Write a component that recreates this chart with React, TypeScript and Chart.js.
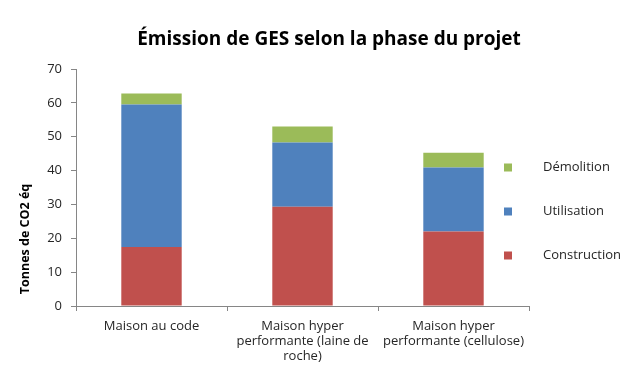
import React, { useEffect, useRef } from "react";
import { Chart, registerables } from "chart.js";

Chart.register(...registerables);

const categories: (string | string[])[] = [
  "Maison au code",
  ["Maison hyper", "performante (laine de", "roche)"],
  ["Maison hyper", "performante (cellulose)"],
];
const construction = [17.4, 29.3, 22.0];
const utilisation = [42.1, 19.0, 18.9];
const demolition = [3.3, 4.7, 4.4];
const seriesLabels = ["Construction", "Utilisation", "Démolition"];
const seriesColors = ["#C0504D", "#4F81BD", "#9BBB59"];
const yTicks = [0, 10, 20, 30, 40, 50, 60, 70];
const chartTitle = "Émission de GES selon la phase du projet";
const yTitle = "Tonnes de CO2 éq";

const FONT = "'Open Sans', 'DejaVu Sans', sans-serif";
const TEXT = "#262626";
const AXIS = "#868686";

const decorPlugin = {
  id: "decor",
  afterDraw(chart: any) {
    const { ctx, chartArea } = chart;
    // main title
    ctx.save();
    ctx.font = `bold 19px ${FONT}`;
    ctx.fillStyle = "#000";
    ctx.textAlign = "center";
    ctx.textBaseline = "middle";
    ctx.fillText(chartTitle, 329, 40);
    ctx.restore();

    // y axis title
    ctx.save();
    ctx.font = `bold 12.5px ${FONT}`;
    ctx.fillStyle = "#000";
    ctx.translate(25, chartArea.bottom - 67);
    ctx.rotate(-Math.PI / 2);
    ctx.textAlign = "center";
    ctx.textBaseline = "middle";
    ctx.fillText(yTitle, 0, 0);
    ctx.restore();

    // legend (reversed order)
    ctx.save();
    ctx.font = `13px ${FONT}`;
    ctx.textBaseline = "middle";
    ctx.textAlign = "left";
    const ds = chart.data.datasets;
    const n = ds.length;
    for (let i = 0; i < n; i++) {
      const d = ds[n - 1 - i];
      const cy = 167.5 + i * 44;
      const bx = chartArea.right - 25;
      ctx.fillStyle = d.backgroundColor;
      ctx.fillRect(bx, cy - 4, 8, 8);
      ctx.fillStyle = TEXT;
      ctx.fillText(d.label, bx + 39, cy);
    }
    ctx.restore();
  },
};

export default function App() {
  const ref = useRef<HTMLCanvasElement>(null);
  useEffect(() => {
    document.body.style.margin = "0";
    const chart = new Chart(ref.current!, {
      type: "bar",
      data: {
        labels: categories,
        datasets: [construction, utilisation, demolition].map((v, i) => ({
          label: seriesLabels[i],
          data: v,
          backgroundColor: seriesColors[i],
          borderWidth: 0,
          barPercentage: 0.4,
          categoryPercentage: 1,
        })),
      },
      options: {
        animation: false,
        responsive: false,
        layout: { padding: { left: 0, right: 111, top: 69, bottom: 0 } },
        plugins: {
          legend: { display: false },
          tooltip: { enabled: false },
          title: { display: false },
        },
        scales: {
          x: {
            stacked: true,
            grid: { display: true, drawOnChartArea: false, tickLength: 5, color: AXIS, offset: true },
            border: { color: AXIS },
            ticks: {
              color: TEXT,
              font: { family: FONT, size: 13, lineHeight: 1.15 },
              padding: 8,
              maxRotation: 0,
              autoSkip: false,
            },
            afterFit: (s: any) => {
              s.height = 69;
            },
          },
          y: {
            stacked: true,
            min: 0,
            max: 70,
            afterBuildTicks: (s: any) => {
              s.ticks = yTicks.map((v) => ({ value: v }));
            },
            grid: { display: true, drawOnChartArea: false, tickLength: 5, color: AXIS },
            border: { color: AXIS },
            ticks: {
              color: TEXT,
              font: { family: FONT, size: 13 },
              padding: 9,
            },
            afterFit: (s: any) => {
              s.width = 76;
            },
          },
        },
      },
      plugins: [decorPlugin],
    });
    return () => chart.destroy();
  }, []);
  return (
    <div style={{ width: 640, height: 375 }}>
      <canvas ref={ref} width={640} height={375} />
    </div>
  );
}
